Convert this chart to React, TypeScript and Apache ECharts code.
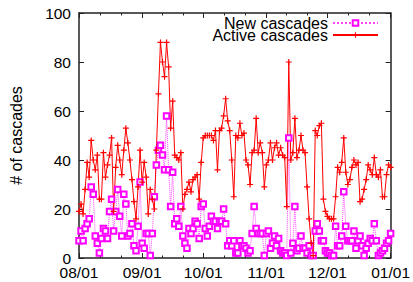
import React, { useEffect, useRef } from "react";
import * as echarts from "echarts";

// Daily values from 08/01 to 01/01
const startYear = 2009;
const startMonth = 7; // August (0-based)
const activeCascades = [
  19, 22, 18, 28, 39, 33, 48, 40, 36, 42,
  24, 24, 43, 33, 38, 42, 49, 19, 37, 46,
  40, 34, 44, 53, 47, 40, 32, 23, 16, 29,
  44, 31, 39, 33, 18, 28, 24, 20, 44, 67,
  88, 80, 74, 88, 78, 53, 64, 42, 41, 40,
  43, 20, 26, 28, 31, 27, 32, 33, 34, 24,
  39, 49, 50, 50, 50, 50, 48, 52, 36, 52,
  53, 58, 65, 56, 52, 40, 25, 50, 49, 55,
  50, 51, 40, 38, 30, 43, 44, 57, 43, 47,
  43, 29, 38, 40, 47, 40, 45, 47, 42, 45,
  42, 41, 21, 80, 40, 43, 57, 41, 44, 50,
  44, 43, 29, 16, 6, 1, 52, 50, 54, 55,
  24, 19, 17, 16, 16, 16, 25, 37, 35, 39,
  49, 35, 30, 32, 37, 40, 38, 39, 23, 24,
  28, 32, 38, 36, 34, 41, 34, 33, 36, 25,
  25, 34, 38, 37,
];
const newCascades = [
  7, 11, 7, 12, 14, 16, 29, 26, 9, 6,
  2, 8, 12, 11, 8, 19, 24, 11, 19, 28,
  17, 9, 26, 22, 9, 10, 14, 5, 3, 13,
  31, 6, 4, 10, 10, 1, 10, 25, 38, 44,
  46, 42, 36, 58, 36, 21, 35, 14, 16, 13,
  21, 9, 6, 4, 12, 10, 12, 15, 14, 8,
  21, 22, 12, 9, 13, 17, 15, 15, 12, 15,
  15, 20, 14, 5, 7, 5, 7, 2, 2, 7,
  5, 5, 4, 2, 3, 10, 21, 12, 10, 10,
  10, 1, 10, 11, 4, 6, 9, 5, 8, 3,
  2, 2, 1, 49, 2, 6, 21, 3, 4, 9,
  4, 4, 2, 5, 1, 1, 11, 14, 11, 7,
  7, 3, 2, 2, 1, 1, 13, 5, 5, 9,
  27, 13, 7, 7, 7, 11, 4, 7, 9, 5,
  1, 4, 6, 8, 7, 14, 7, 1, 2, 3,
  4, 6, 7, 10,
];
const seriesNames = ["New cascades", "Active cascades"];
const yAxisTitle = "# of cascades";

const dayTime = (i: number) => new Date(startYear, startMonth, 1 + i).getTime();
const xMin = new Date(startYear, startMonth, 1).getTime();
const xMax = new Date(startYear + 1, 0, 1).getTime();

const pad = (n: number) => (n < 10 ? "0" + n : "" + n);
const fmt = (v: number) => {
  const d = new Date(v);
  return pad(d.getMonth() + 1) + "/" + pad(d.getDate());
};

const FONT = "'Liberation Sans', Arial, Helvetica, sans-serif";
const PLUS = "path://M4,0H6V4H10V6H6V10H4V6H0V4H4Z";
const BORDER = "#222";

export default function App() {
  const ref = useRef<HTMLDivElement>(null);
  useEffect(() => {
    if (!ref.current) return;
    const chart = echarts.init(ref.current, null, { renderer: "svg" });
    const xCommon = {
      type: "time" as const,
      min: xMin,
      max: xMax,
      splitNumber: 5,
      minInterval: 28 * 86400000,
      maxInterval: 31 * 86400000,
      splitLine: { show: false },
      axisLine: { show: true, onZero: false, lineStyle: { color: BORDER, width: 1.5 } },
      axisTick: { show: true, inside: true, length: 5, lineStyle: { color: BORDER, width: 1 } },
      minorTick: { show: true, splitNumber: 3, length: 2.5, lineStyle: { color: BORDER, width: 1 } },
    };
    const yCommon = {
      type: "value" as const,
      min: 0,
      max: 100,
      interval: 20,
      splitLine: { show: false },
      axisLine: { show: true, onZero: false, lineStyle: { color: BORDER, width: 1.5 } },
      axisTick: { show: true, inside: true, length: 5, lineStyle: { color: BORDER, width: 1 } },
    };
    chart.setOption({
      animation: false,
      backgroundColor: "#fff",
      textStyle: { fontFamily: FONT },
      grid: { left: 72, right: 20, top: 13, bottom: 24, containLabel: false },
      legend: {
        orient: "vertical",
        right: 34,
        top: 15,
        align: "right",
        padding: 0,
        itemGap: -4,
        itemWidth: 45,
        itemHeight: 7,
        textStyle: { fontSize: 16, color: "#000", fontFamily: FONT },
        data: seriesNames,
      },
      xAxis: [
        {
          ...xCommon,
          position: "bottom",
          axisLabel: {
            show: true,
            fontSize: 15.5,
            color: "#000",
            margin: 6,
            showMinLabel: true,
            showMaxLabel: true,
            hideOverlap: false,
            formatter: (v: number) => fmt(v),
          },
        },
        {
          ...xCommon,
          position: "top",
          axisLabel: { show: false },
        },
      ],
      yAxis: [
        {
          ...yCommon,
          position: "left",
          name: yAxisTitle,
          nameLocation: "middle",
          nameRotate: 90,
          nameGap: 55,
          nameTextStyle: { fontSize: 16, color: "#000" },
          axisLabel: { show: true, fontSize: 15.5, color: "#000", margin: 8 },
        },
        {
          ...yCommon,
          position: "right",
          axisLabel: { show: false },
        },
      ],
      series: [
        {
          name: seriesNames[0],
          type: "line",
          xAxisIndex: 0,
          yAxisIndex: 0,
          data: newCascades.map((v, i) => [dayTime(i), v]),
          symbol: "emptyRect",
          symbolSize: 5.5,
          showAllSymbol: true,
          itemStyle: { color: "#ff00ff", borderColor: "#ff00ff", borderWidth: 1 },
          lineStyle: { color: "#ff44ff", width: 1, type: "dotted" },
        },
        {
          name: seriesNames[1],
          type: "line",
          xAxisIndex: 0,
          yAxisIndex: 0,
          data: activeCascades.map((v, i) => [dayTime(i), v]),
          symbol: PLUS,
          symbolSize: 6,
          showAllSymbol: true,
          itemStyle: { color: "#ff0000" },
          lineStyle: { color: "#ff0000", width: 1 },
        },
      ],
    });
    return () => chart.dispose();
  }, []);
  return (
    <div
      ref={ref}
      style={{ position: "fixed", left: 0, top: 0, width: 413, height: 282, background: "#fff" }}
    />
  );
}
